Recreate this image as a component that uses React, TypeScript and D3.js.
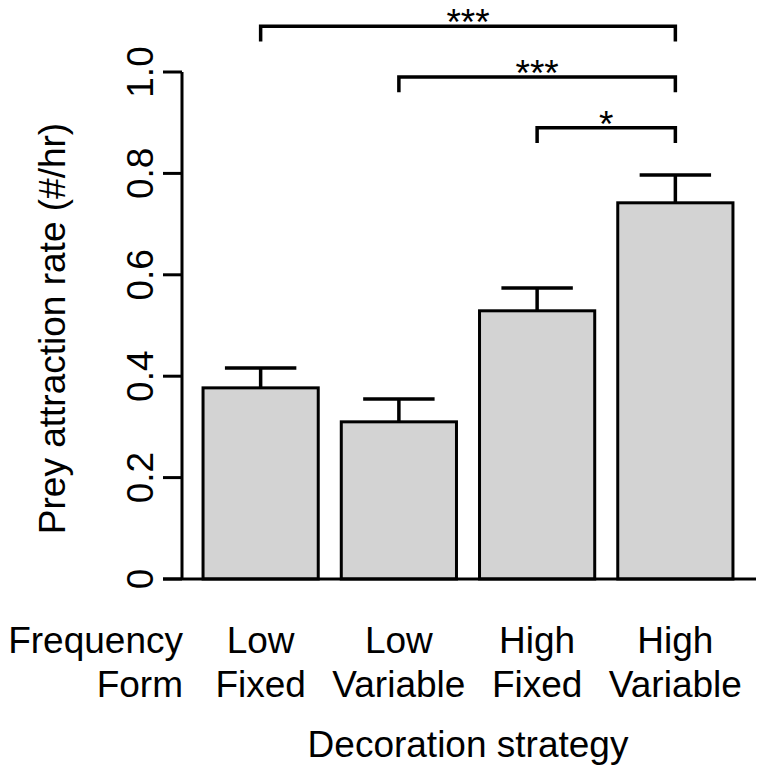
import React from "react";
import * as d3 from "d3";

const freqLabels = ["Low", "Low", "High", "High"];
const formLabels = ["Fixed", "Variable", "Fixed", "Variable"];
const means = [0.377, 0.31, 0.529, 0.742];
const upper = [0.416, 0.355, 0.574, 0.797];
const yTicks = [0, 0.2, 0.4, 0.6, 0.8, 1.0];
const yTickLabels = ["0", "0.2", "0.4", "0.6", "0.8", "1.0"];
const comparisons = [
  { from: 0, to: 3, level: 1.09, label: "***" },
  { from: 1, to: 3, level: 0.99, label: "***" },
  { from: 2, to: 3, level: 0.89, label: "*" },
];

export default function App() {
  const W = 765, H = 776;
  const x = d3.scaleLinear().domain([0, 5]).range([180, 756]);
  const y = d3.scaleLinear().domain([0, 1]).range([579, 72]);
  const barW = 1, space = 0.2;
  const left = (i: number) => space + i * (barW + space);
  const center = (i: number) => left(i) + barW / 2;
  const font = "Liberation Sans, Arial, Helvetica, sans-serif";
  const fs = 37;
  const capHalf = 0.31;
  const tickLen = 0.03;

  return (
    <svg width={W} height={H} style={{ position: "absolute", left: 0, top: 0, background: "#fff" }}
      fontFamily={font} fontSize={fs}>
      {/* bars */}
      {means.map((m, i) => (
        <rect key={"b" + i} x={x(left(i))} y={y(m)} width={x(left(i) + barW) - x(left(i))}
          height={y(0) - y(m)} fill="#d3d3d3" stroke="#000" strokeWidth={3} />
      ))}
      {/* error bars */}
      {means.map((m, i) => (
        <g key={"e" + i} stroke="#000" strokeWidth={3.5}>
          <line x1={x(center(i))} x2={x(center(i))} y1={y(m)} y2={y(upper[i])} />
          <line x1={x(center(i) - capHalf)} x2={x(center(i) + capHalf)} y1={y(upper[i])} y2={y(upper[i])} />
        </g>
      ))}
      {/* baseline */}
      <line x1={163} x2={x(5)} y1={y(0)} y2={y(0)} stroke="#000" strokeWidth={3} />
      {/* y axis */}
      <line x1={x(0) + 2} x2={x(0) + 2} y1={y(0)} y2={y(1)} stroke="#000" strokeWidth={3} />
      {yTicks.map((t, i) => (
        <g key={"t" + i}>
          <line x1={163} x2={x(0) + 2} y1={y(t)} y2={y(t)} stroke="#000" strokeWidth={3} />
          <text transform={`translate(153,${y(t)}) rotate(-90)`} textAnchor="middle">{yTickLabels[i]}</text>
        </g>
      ))}
      <text transform={`translate(65,${(y(0) + y(1)) / 2 + 3}) rotate(-90)`} textAnchor="middle">
        Prey attraction rate (#/hr)
      </text>
      {/* category labels */}
      <text x={183} y={653} textAnchor="end">Frequency</text>
      <text x={183} y={697} textAnchor="end">Form</text>
      {freqLabels.map((l, i) => (
        <text key={"f" + i} x={x(center(i))} y={653} textAnchor="middle">{l}</text>
      ))}
      {formLabels.map((l, i) => (
        <text key={"m" + i} x={x(center(i))} y={697} textAnchor="middle">{l}</text>
      ))}
      <text x={(x(0) + x(5)) / 2} y={757} textAnchor="middle">Decoration strategy</text>
      {/* significance brackets */}
      {comparisons.map((c, i) => (
        <g key={"c" + i}>
          <path d={`M${x(center(c.from))},${y(c.level - tickLen)}V${y(c.level)}H${x(center(c.to))}V${y(c.level - tickLen)}`}
            fill="none" stroke="#000" strokeWidth={3.5} />
          <text x={(x(center(c.from)) + x(center(c.to))) / 2} y={y(c.level) + 9} textAnchor="middle">{c.label}</text>
        </g>
      ))}
    </svg>
  );
}
